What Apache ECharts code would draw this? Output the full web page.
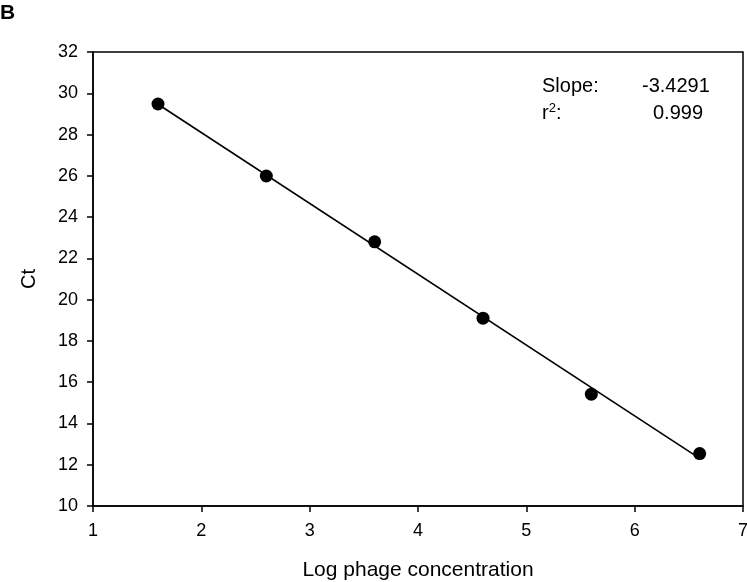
<!DOCTYPE html>
<html><head><meta charset="utf-8">
<script src="https://cdn.jsdelivr.net/npm/echarts@6/dist/echarts.min.js"></script>
<style>html,body{margin:0;padding:0;background:#fff}#c{width:747px;height:582px}</style>
</head><body><div id="c"></div>
<script>
const logConc = [1.6, 2.6, 3.6, 4.6, 5.6, 6.6];
const ctValues = [29.48, 25.99, 22.80, 19.10, 15.42, 12.54];
const slopeText = '-3.4291';
const r2Text = '0.999';

// least-squares regression line from the data
const n = logConc.length;
const mx = logConc.reduce((a,b)=>a+b,0)/n;
const my = ctValues.reduce((a,b)=>a+b,0)/n;
let sxy=0, sxx=0;
for (let i=0;i<n;i++){ sxy += (logConc[i]-mx)*(ctValues[i]-my); sxx += (logConc[i]-mx)**2; }
const slope = sxy/sxx, icpt = my - slope*mx;
const fitLine = [[logConc[0], icpt+slope*logConc[0]], [logConc[n-1], icpt+slope*logConc[n-1]]];

const chart = echarts.init(document.getElementById('c'));
const font = 'Liberation Sans, Arial, sans-serif';
chart.setOption({
  animation:false,
  backgroundColor:'#fff',
  grid:{left:93,right:4,top:52,bottom:76,outerBoundsMode:'none',containLabel:false,show:true,borderColor:'#000',borderWidth:1.5,backgroundColor:'transparent'},
  xAxis:{type:'value',min:1,max:7,interval:1,
    name:'Log phage concentration',nameLocation:'middle',nameGap:54,
    nameTextStyle:{fontFamily:font,fontSize:21,color:'#000'},
    axisLine:{show:true,lineStyle:{color:'#000',width:1.5}},
    axisTick:{show:true,inside:false,length:6,lineStyle:{color:'#000',width:1.5}},
    axisLabel:{fontFamily:font,fontSize:18,color:'#000',margin:16},
    splitLine:{show:false}},
  yAxis:{type:'value',min:10,max:32,interval:2,
    name:'Ct',nameLocation:'middle',nameGap:54,
    nameTextStyle:{fontFamily:font,fontSize:20,color:'#000'},
    axisLine:{show:true,lineStyle:{color:'#000',width:1.5}},
    axisTick:{show:true,inside:false,length:6,lineStyle:{color:'#000',width:1.5}},
    axisLabel:{fontFamily:font,fontSize:18,color:'#000',margin:15},
    splitLine:{show:false}},
  graphic:[
    {type:'text',left:0,top:3,style:{text:'B',font:'bold 21px '+font,fill:'#000'}},
    {type:'text',x:542,y:86,style:{text:'Slope:',font:'20px '+font,fill:'#000',verticalAlign:'middle'}},
    {type:'text',x:642,y:86,style:{text:slopeText,font:'20px '+font,fill:'#000',verticalAlign:'middle'}},
    {type:'text',x:542,y:113,style:{text:'{a|r}{s|2}{a|:}',verticalAlign:'middle',rich:{a:{fontFamily:font,fontSize:20,color:'#000'},s:{fontFamily:font,fontSize:13,color:'#000',padding:[0,0,9,0]}}}},
    {type:'text',x:653,y:113,style:{text:r2Text,font:'20px '+font,fill:'#000',verticalAlign:'middle'}}
  ],
  series:[
    {type:'line',data:fitLine,symbol:'none',lineStyle:{color:'#000',width:1.6},z:2},
    {type:'scatter',data:logConc.map((x,i)=>[x,ctValues[i]]),symbol:'circle',symbolSize:13,itemStyle:{color:'#000',opacity:1},z:3}
  ]
});
</script></body></html>
